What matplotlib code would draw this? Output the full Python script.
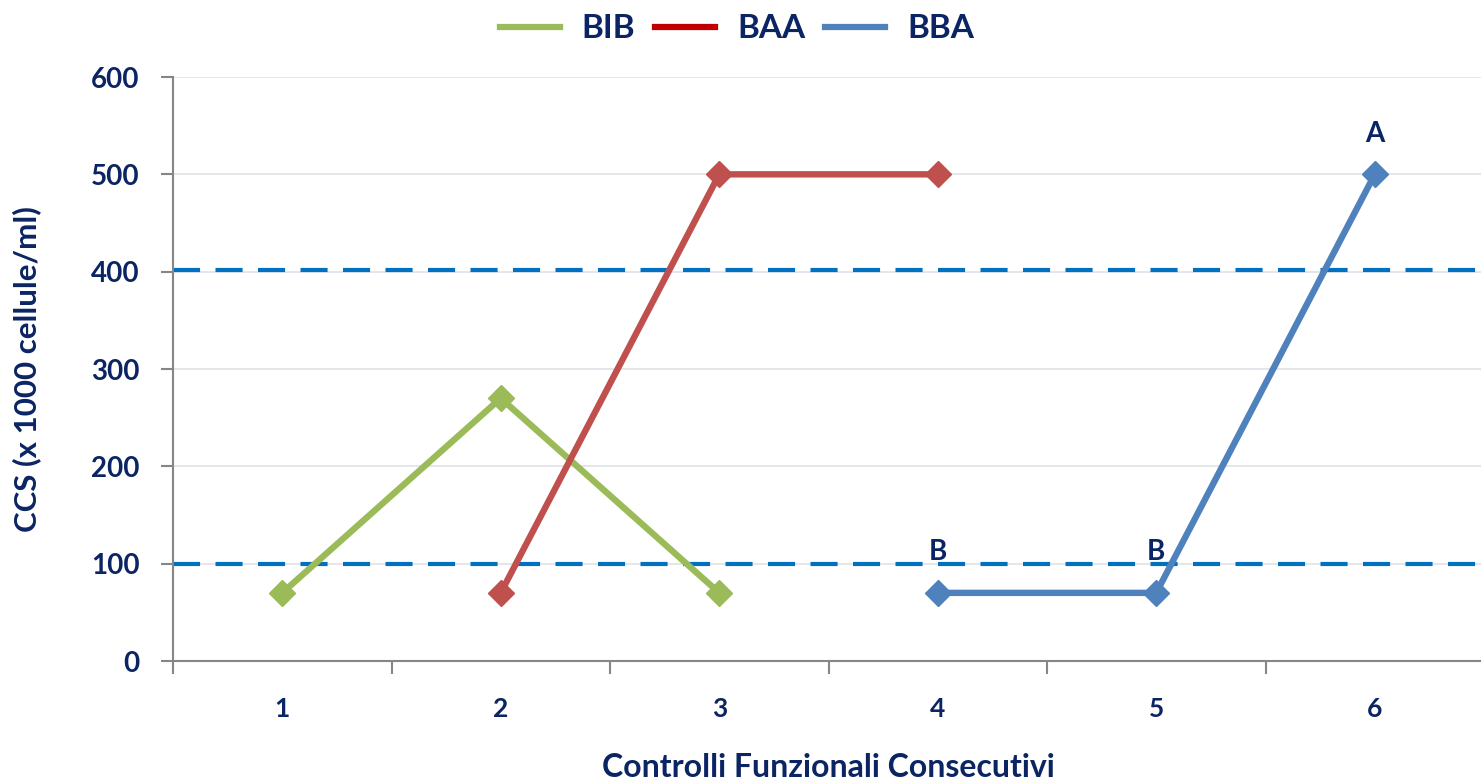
import numpy as np
import matplotlib
matplotlib.use("Agg")
import matplotlib.pyplot as plt
from matplotlib.lines import Line2D

# Controls (categories) and somatic cell counts per group
categories = ["1", "2", "3", "4", "5", "6"]
bib = [70, 270, 70, None, None, None]
baa = [None, 70, 500, 500, None, None]
bba = [None, None, None, 70, 70, 500]
bba_labels = [None, None, None, "B", "B", "A"]
thresholds = [100, 402]
y_ticks = [0, 100, 200, 300, 400, 500, 600]

NAVY = "#0B2463"
GREEN = "#9BBB59"
RED = "#C0504D"
RED_LEGEND = "#C00000"
BLUE = "#4F81BD"
DASH = "#0070C0"
AXIS = "#868686"
GRID = "#E3E3EA"

plt.rcParams["font.family"] = ["Lato", "DejaVu Sans"]
plt.rcParams["font.weight"] = "bold"

fig = plt.figure(figsize=(14.81, 7.83), dpi=100)
ax = fig.add_axes([173 / 1481, 1 - 661 / 783, (1484 - 173) / 1481, (661 - 77) / 783])

x = np.arange(1, len(categories) + 1)


def as_array(vals):
    return np.array([np.nan if v is None else v for v in vals], dtype=float)


for y0 in y_ticks[1:]:
    ax.axhline(y0, color=GRID, lw=1.3, zorder=1)

for t in thresholds:
    ax.axhline(t, color=DASH, lw=3, ls=(0, (6.5, 3.7)), zorder=2)

series = [(bib, GREEN), (baa, RED), (bba, BLUE)]
for vals, col in series:
    ax.plot(x, as_array(vals), color=col, lw=4.6, marker="D", ms=13,
            mec=col, mfc=col, solid_capstyle="butt", zorder=3)

for xi, v, lab in zip(x, bba, bba_labels):
    if lab:
        ax.annotate(lab, (xi, v), xytext=(0, 20), textcoords="offset points",
                    ha="center", va="bottom", color=NAVY, fontsize=20,
                    fontweight="bold")

ax.set_xlim(0.5, len(categories) + 0.5)
ax.set_ylim(0, 600)
ax.set_yticks(y_ticks)
ax.set_yticklabels([str(v) for v in y_ticks])
ax.set_xticks(x)
ax.set_xticklabels(categories)
ax.set_xticks(np.arange(0.5, len(categories) + 1, 1), minor=True)
ax.tick_params(axis="x", which="major", length=0, pad=26, labelsize=19,
               labelcolor=NAVY)
ax.tick_params(axis="x", which="minor", length=9, width=1.5, color=AXIS,
               direction="out")
ax.tick_params(axis="y", length=9, width=1.5, color=AXIS, pad=15,
               labelsize=20, labelcolor=NAVY)
for s in ["top", "right"]:
    ax.spines[s].set_visible(False)
for s in ["left", "bottom"]:
    ax.spines[s].set_color(AXIS)
    ax.spines[s].set_linewidth(1.5)

ax.set_ylabel("CCS (x 1000 cellule/ml)", color=NAVY, fontsize=22.5,
              fontweight="bold", labelpad=36)
ax.set_xlabel("Controlli Funzionali Consecutivi", color=NAVY, fontsize=23,
              fontweight="bold", labelpad=23)

handles = [Line2D([], [], color=GREEN, lw=4.5),
           Line2D([], [], color=RED_LEGEND, lw=4.5),
           Line2D([], [], color=BLUE, lw=4.5)]
leg = fig.legend(handles, ["BIB", "BAA", "BBA"], loc="center",
                 bbox_to_anchor=(737 / 1481, 1 - 29 / 783), ncol=3,
                 frameon=False, fontsize=24, handlelength=1.8,
                 handletextpad=0.65, columnspacing=0.6)
for t in leg.get_texts():
    t.set_color(NAVY)
    t.set_fontweight("bold")

fig.savefig("out.png", dpi=100)
